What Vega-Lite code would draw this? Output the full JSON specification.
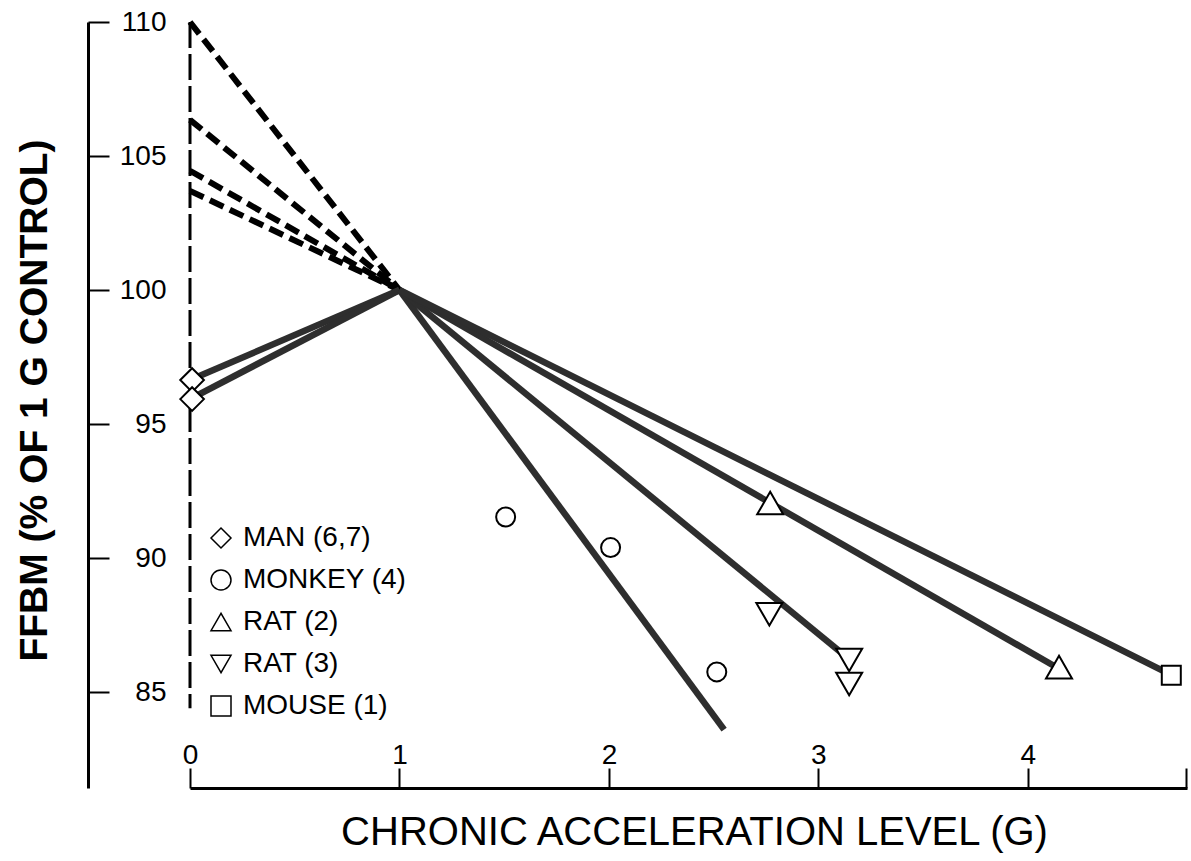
{
  "$schema": "https://vega.github.io/schema/vega-lite/v6.json",
  "width": 997,
  "height": 766,
  "autosize": {"type": "none"},
  "padding": {"left": 190, "top": 22, "right": 4, "bottom": 73},
  "background": "white",
  "config": {"view": {"stroke": null}, "font": "Liberation Sans"},
  "datasets": {
    "dashed": [
      {"series": "d1", "x": 0, "y": 110},
      {"series": "d1", "x": 1, "y": 100},
      {"series": "d2", "x": 0, "y": 106.35},
      {"series": "d2", "x": 1, "y": 100},
      {"series": "d3", "x": 0, "y": 104.45},
      {"series": "d3", "x": 1, "y": 100},
      {"series": "d4", "x": 0, "y": 103.7},
      {"series": "d4", "x": 1, "y": 100}
    ],
    "solid": [
      {"series": "man_a", "x": 0, "y": 96.64},
      {"series": "man_a", "x": 1, "y": 100},
      {"series": "man_b", "x": 0, "y": 95.93},
      {"series": "man_b", "x": 1, "y": 100},
      {"series": "steep", "x": 1, "y": 100},
      {"series": "steep", "x": 2.55, "y": 83.6},
      {"series": "rat3", "x": 1, "y": 100},
      {"series": "rat3", "x": 3.12, "y": 86.4},
      {"series": "rat2", "x": 1, "y": 100},
      {"series": "rat2", "x": 4.12, "y": 86.0},
      {"series": "mouse", "x": 1, "y": 100},
      {"series": "mouse", "x": 4.67, "y": 85.7}
    ],
    "ref": [{"x": 0, "y": 110, "y2": 84.4}],
    "points": [
      {"series": "MAN (6,7)", "x": 0.01, "y": 96.64},
      {"series": "MAN (6,7)", "x": 0.01, "y": 95.93},
      {"series": "MONKEY (4)", "x": 1.507, "y": 91.53},
      {"series": "MONKEY (4)", "x": 2.008, "y": 90.39},
      {"series": "MONKEY (4)", "x": 2.515, "y": 85.75},
      {"series": "RAT (2)", "x": 2.77, "y": 92.05},
      {"series": "RAT (2)", "x": 4.149, "y": 85.93},
      {"series": "RAT (3)", "x": 2.766, "y": 87.9},
      {"series": "RAT (3)", "x": 3.147, "y": 86.2},
      {"series": "RAT (3)", "x": 3.147, "y": 85.3},
      {"series": "MOUSE (1)", "x": 4.685, "y": 85.63}
    ]
  },
  "encoding": {
    "x": {
      "field": "x",
      "type": "quantitative",
      "scale": {"domain": [0, 4.76], "nice": false, "zero": false},
      "axis": {
        "values": [0, 1, 2, 3, 4, 4.755],
        "tickCount": 20,
        "tickMinStep": 0.1,
        "labelExpr": "datum.value > 4.5 ? '' : format(datum.value, 'd')",
        "grid": false,
        "tickSize": -20,
        "tickWidth": 2,
        "tickColor": "black",
        "domainColor": "black",
        "domainWidth": 3,
        "labelPadding": -5,
        "labelBaseline": "alphabetic",
        "labelFontSize": 28,
        "labelColor": "black",
        "labelFlush": false,
        "labelOverlap": false,
        "title": "CHRONIC ACCELERATION LEVEL (G)",
        "titleFontSize": 40,
        "titleFontWeight": "normal",
        "titleColor": "black",
        "titleBaseline": "alphabetic",
        "titleX": 504,
        "titleY": 56
      }
    },
    "y": {
      "field": "y",
      "type": "quantitative",
      "scale": {"domain": [81.42, 110], "nice": false, "zero": false},
      "axis": {
        "values": [85, 90, 95, 100, 105, 110],
        "tickCount": 20,
        "tickMinStep": 0.1,
        "offset": 102,
        "grid": false,
        "tickSize": -21,
        "tickWidth": 2,
        "tickColor": "black",
        "domainColor": "black",
        "domainWidth": 3,
        "labelPadding": -57,
        "labelAlign": "right",
        "labelBaseline": "middle",
        "labelFontSize": 28,
        "labelColor": "black",
        "labelFlush": false,
        "labelOverlap": false,
        "title": "FFBM (% OF 1 G CONTROL)",
        "titleFontSize": 39,
        "titleFontWeight": "bold",
        "titleColor": "black",
        "titleBaseline": "middle",
        "titleAngle": 270,
        "titleX": -54,
        "titleY": 378
      }
    }
  },
  "layer": [
    {
      "data": {"name": "ref"},
      "mark": {"type": "rule", "color": "black", "strokeWidth": 3, "strokeDash": [26, 6]},
      "encoding": {"y2": {"field": "y2"}}
    },
    {
      "data": {"name": "dashed"},
      "mark": {"type": "line", "color": "black", "strokeWidth": 6, "strokeDash": [15, 7], "strokeCap": "butt"},
      "encoding": {"detail": {"field": "series", "type": "nominal"}}
    },
    {
      "data": {"name": "solid"},
      "mark": {"type": "line", "color": "#2e2e2e", "strokeWidth": 6.5, "strokeCap": "butt"},
      "encoding": {"detail": {"field": "series", "type": "nominal"}}
    },
    {
      "data": {"name": "points"},
      "transform": [{"filter": "datum.series == 'MONKEY (4)' || datum.series == 'MOUSE (1)'"}],
      "mark": {"type": "point", "fill": "white", "color": "black", "strokeWidth": 2, "opacity": 1, "size": 361},
      "encoding": {
        "shape": {
          "field": "series",
          "type": "nominal",
          "scale": {
            "domain": ["MAN (6,7)", "MONKEY (4)", "RAT (2)", "RAT (3)", "MOUSE (1)"],
            "range": ["diamond", "circle", "triangle-up", "triangle-down", "square"]
          },
          "legend": {
            "orient": "none",
            "legendX": 17,
            "legendY": 502,
            "title": null,
            "labelFontSize": 28,
            "labelColor": "black",
            "labelFont": "Liberation Sans",
            "labelLimit": 500,
            "symbolSize": 400,
            "rowPadding": 14,
            "labelOffset": 8,
            "encode": {
              "symbols": {
                "update": {
                  "fill": {"value": "white"},
                  "stroke": {"value": "black"},
                  "strokeWidth": {"value": 2},
                  "opacity": {"value": 1},
                  "size": {"value": 400}
                }
              }
            }
          }
        }
      }
    },
    {
      "data": {"name": "points"},
      "transform": [{"filter": "datum.series == 'MAN (6,7)'"}],
      "mark": {"type": "point", "fill": "white", "color": "black", "strokeWidth": 2, "opacity": 1, "size": 560},
      "encoding": {
        "shape": {"field": "series", "type": "nominal"}
      }
    },
    {
      "data": {"name": "points"},
      "transform": [{"filter": "datum.series == 'RAT (2)' || datum.series == 'RAT (3)'"}],
      "mark": {"type": "point", "fill": "white", "color": "black", "strokeWidth": 2, "opacity": 1, "size": 676},
      "encoding": {
        "shape": {"field": "series", "type": "nominal"}
      }
    }
  ]
}
